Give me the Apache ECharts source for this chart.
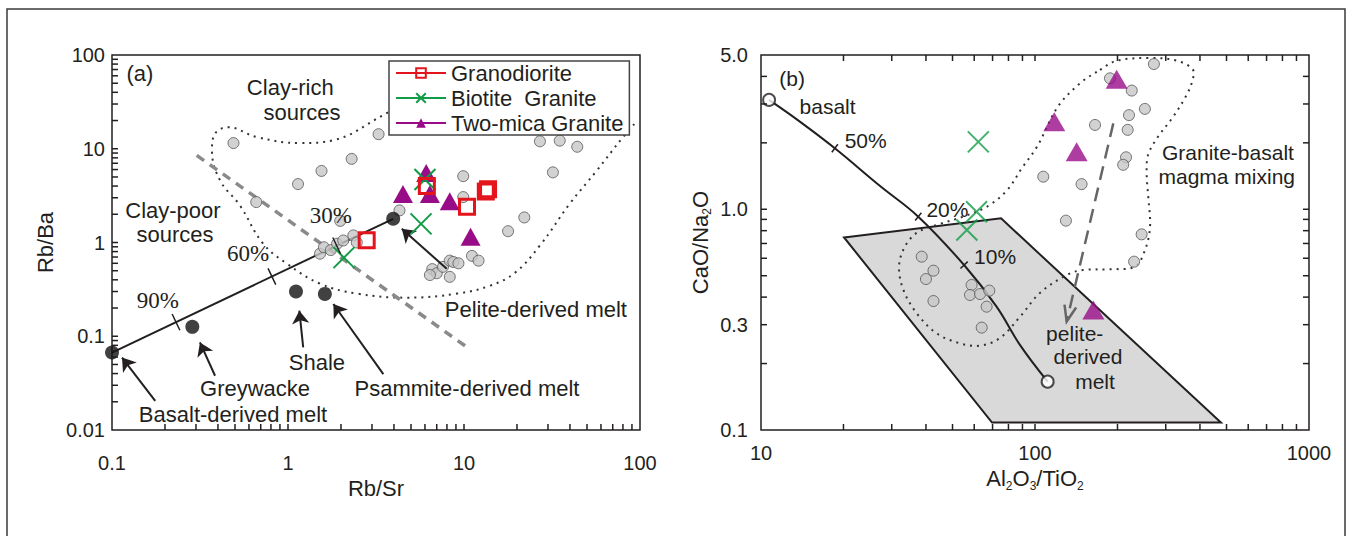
<!DOCTYPE html>
<html>
<head>
<meta charset="utf-8">
<title>Rb/Sr – Rb/Ba and Al2O3/TiO2 – CaO/Na2O source diagrams</title>
<script src="https://cdn.jsdelivr.net/npm/echarts@6/dist/echarts.min.js"></script>
<style>
  html, body { margin: 0; padding: 0; background: #fff; }
  #chart { width: 1351px; height: 536px; }
</style>
</head>
<body>
<div id="chart"></div>
<script>
// ---------- Panel (a): Rb/Sr vs Rb/Ba ----------
const samplesA = [
  [0.49, 11.5], [0.66, 2.7], [1.14, 4.2], [1.55, 5.8], [2.3, 7.8], [3.27, 14.3],
  [1.98, 1.7], [4.3, 2.2], [1.52, 0.76], [1.6, 0.89], [1.75, 0.83], [1.9, 0.97],
  [2.06, 1.05], [2.35, 1.19], [2.46, 1.0], [9.9, 5.1], [9.9, 3.05], [27, 12],
  [35, 12.2], [44, 10.5], [32, 5.6], [22, 1.85], [17.8, 1.32], [11.1, 0.72],
  [12.1, 0.64], [6.6, 0.52], [7.0, 0.47], [7.6, 0.55], [8.3, 0.64], [8.7, 0.62],
  [9.3, 0.60], [8.3, 0.43], [6.4, 0.45]
];
const granodioriteA = [[2.8, 1.06], [6.15, 4.0], [10.4, 2.4], [13.3, 3.5], [13.7, 3.7]];
const biotiteA = [[2.08, 0.69], [5.7, 1.58], [6.0, 4.7]];
const twoMicaA = [[4.5, 3.3], [6.1, 5.5], [6.4, 3.3], [8.3, 2.75], [10.9, 1.15]];

// end members: basalt-derived melt, greywacke, shale, psammite-derived melt, pelite-derived melt
const endMembersA = [[0.1, 0.067], [0.286, 0.126], [1.11, 0.30], [1.62, 0.283], [3.96, 1.79]];
const mixTicksA = [[0.231, 0.1416], [0.81, 0.434], [1.89, 0.925]];
const mixLabelsA = ['90%', '60%', '30%'];
const mixLabelAnchorsA = [[0.182, 0.24], [0.593, 0.762], [1.75, 1.95]];

const clayDividerA = [[0.303, 8.5], [10.5, 0.0755]];
const clayFieldA = [
  [4.33, 29.2], [3.47, 22.8], [1.80, 12.3], [1.17, 11.5], [0.667, 13.3], [0.456, 17.0],
  [0.380, 13.9], [0.370, 9.6], [0.411, 4.6], [0.533, 2.49], [0.721, 0.975], [0.986, 0.595],
  [1.52, 0.364], [2.47, 0.285], [4.74, 0.258], [9.12, 0.285], [14.1, 0.347], [19.5, 0.477],
  [27.0, 0.929], [40.0, 2.61], [57.0, 5.89], [79.0, 12.9], [94.9, 19.2]
];
const arrowsA = [
  [[0.176, 0.0204], [0.114, 0.0593]],
  [[0.385, 0.0379], [0.316, 0.0859]],
  [[1.22, 0.0759], [1.16, 0.1875]],
  [[3.48, 0.0394], [1.81, 0.221]],
  [[7.98, 0.524], [4.43, 1.40]]
];
const notesA = [
  ['(a)', 0.144, 64],
  ['Clay-rich', 1.03, 45.5],
  ['sources', 1.20, 24.5],
  ['Clay-poor', 0.222, 2.2],
  ['sources', 0.228, 1.22],
  ['Pelite-derived melt', 25.6, 0.192],
  ['Shale', 1.46, 0.0521],
  ['Greywacke', 0.65, 0.0274],
  ['Psammite-derived melt', 10.4, 0.0274],
  ['Basalt-derived melt', 0.487, 0.0148]
];
const xTicksA = [0.2, 0.3, 0.4, 0.5, 0.6, 0.7, 0.8, 0.9, 1, 2, 3, 4, 5, 6, 7, 8, 9, 10,
  20, 30, 40, 50, 60, 70, 80, 90];
const yTicksA = [0.02, 0.03, 0.04, 0.05, 0.06, 0.07, 0.08, 0.09, 0.1, 0.2, 0.3, 0.4, 0.5, 0.6,
  0.7, 0.8, 0.9, 1, 2, 3, 4, 5, 6, 7, 8, 9, 10, 20, 30, 40, 50, 60, 70, 80, 90];

// ---------- Panel (b): Al2O3/TiO2 vs CaO/Na2O ----------
const samplesB = [
  [38.6, 0.61], [42.6, 0.527], [40.0, 0.483], [42.6, 0.384],
  [58.7, 0.454], [57.9, 0.409], [63.0, 0.413], [68.1, 0.428], [66.6, 0.362], [63.9, 0.291],
  [271.6, 4.55], [187.8, 3.92], [225.5, 3.45], [251.8, 2.85], [220.3, 2.67], [165.6, 2.41],
  [217.9, 2.29], [214.9, 1.72], [209.8, 1.59], [107.2, 1.405], [147.9, 1.30], [129.7, 0.888],
  [245, 0.77], [230, 0.579]
];
const biotiteB = [[62.1, 2.02], [61.2, 0.975], [56.4, 0.806]];
const twoMicaB = [[198.6, 3.88], [117.6, 2.49], [141.9, 1.82], [163.3, 0.35]];
const endMembersB = [[10.7, 3.13], [111.2, 0.1656]];   // basalt, pelite-derived melt
const mixCurveB = [
  [10.7, 3.13], [13.9, 2.49], [18.6, 1.89], [27.2, 1.275], [37.5, 0.926],
  [55.1, 0.559], [72.4, 0.362], [88.1, 0.243], [111.2, 0.1656]
];
const mixTicksB = [[18.6, 1.89], [37.5, 0.926], [55.1, 0.559]];
const peliteFieldB = [[20.1, 0.745], [75.2, 0.91], [477, 0.108], [69.7, 0.108]];
const mixingFieldB = [
  [172.7, 4.28], [198.7, 4.71], [262.9, 4.85], [329.8, 4.71], [377.3, 4.28], [374.1, 3.78],
  [357.8, 3.30], [318.9, 2.62], [281.1, 2.13], [258.5, 1.76], [255.7, 1.43], [259.1, 1.137],
  [262.9, 0.832], [252.1, 0.654], [231.7, 0.55], [187.8, 0.535], [149.7, 0.531], [130.5, 0.504],
  [104.3, 0.418], [88.2, 0.326], [74.5, 0.261], [63.0, 0.241], [53.2, 0.247], [43.8, 0.274],
  [37.0, 0.338], [33.1, 0.431], [31.9, 0.55], [33.5, 0.677], [37.4, 0.789], [45.0, 0.858],
  [55.5, 0.932], [67.4, 1.035], [79.1, 1.22], [89.7, 1.54], [101.7, 1.92], [121.3, 2.92],
  [145.9, 3.72]
];
const trendArrowB = [[193.1, 2.45], [130.5, 0.31]];
const notesB = [
  ['(b)', 12.98, 3.92],
  ['basalt', 17.5, 2.91],
  ['50%', 24.1, 2.06],
  ['20%', 47.9, 0.993],
  ['10%', 71.5, 0.61],
  ['Granite-basalt', 506, 1.805],
  ['magma mixing', 500.9, 1.405],
  ['pelite-', 139.6, 0.274],
  ['derived', 156.1, 0.215],
  ['melt', 165.6, 0.1655]
];
const xTicksB = [20, 30, 40, 50, 60, 70, 80, 90, 100, 200, 300, 400, 500, 600, 700, 800, 900];
const yTicksB = [0.2, 0.3, 0.4, 0.5, 0.6, 0.7, 0.8, 0.9, 1, 2, 3, 4];
const yLabelValuesB = [0.1, 0.3, 1.0, 5.0];
const yLabelsB = ['0.1', '0.3', '1.0', '5.0'];

// ---------- styling ----------
const INK = '#231f20';
const SANS = '"Liberation Sans", Arial, Helvetica, sans-serif';
const SERIF = '"Liberation Serif", "Times New Roman", serif';
const RED = '#e3141c';
const GREEN = '#129c47';
const PURPLE = '#990c88';
const GREY_FILL = '#c7c7c7';
const GREY_EDGE = '#555';
const TICK = 6;
const CROSS = 'path://M0,0L20,20M20,0L0,20';
const plainNumber = v => String(v);

function tickSeries(values, dim, xi, yi, anchor, sides) {
  return {
    type: 'custom', xAxisIndex: xi, yAxisIndex: yi, silent: true, z: 8, clip: false,
    data: values.map(v => dim === 'x' ? [v, anchor] : [anchor, v]),
    renderItem: (params, api) => {
      const cs = params.coordSys;
      const p = api.coord([api.value(0), api.value(1)]);
      const kids = sides.map(side => {
        let s;
        if (side === 'bottom') s = { x1: p[0], y1: cs.y + cs.height, x2: p[0], y2: cs.y + cs.height - TICK };
        else if (side === 'top') s = { x1: p[0], y1: cs.y, x2: p[0], y2: cs.y + TICK };
        else if (side === 'left') s = { x1: cs.x, y1: p[1], x2: cs.x + TICK, y2: p[1] };
        else s = { x1: cs.x + cs.width, y1: p[1], x2: cs.x + cs.width - TICK, y2: p[1] };
        return { type: 'line', shape: s, style: { stroke: INK, lineWidth: 1.5 } };
      });
      return { type: 'group', children: kids };
    }
  };
}

function noteSeries(items, xi, yi, font, z) {
  return {
    type: 'custom', xAxisIndex: xi, yAxisIndex: yi, silent: true, z: z || 30, clip: false,
    data: items.map(t => [t[1], t[2]]),
    renderItem: (params, api) => {
      const p = api.coord([api.value(0), api.value(1)]);
      return {
        type: 'text', x: p[0], y: p[1],
        style: { text: items[params.dataIndex][0], font: font, fill: INK, align: 'center', verticalAlign: 'middle' }
      };
    }
  };
}

// short strokes across a mixing line, perpendicular to the local direction of the line
function mixTickSeries(points, line, xi, yi, len) {
  return {
    type: 'custom', xAxisIndex: xi, yAxisIndex: yi, silent: true, z: 12, clip: false,
    data: points,
    renderItem: (params, api) => {
      const x = api.value(0);
      const p = api.coord([x, api.value(1)]);
      let i = 0;
      while (i < line.length - 2 && line[i + 1][0] < x) i++;
      const a = api.coord(line[i]);
      const b = api.coord(line[i + 1]);
      const dx = b[0] - a[0], dy = b[1] - a[1];
      const L = Math.hypot(dx, dy) || 1;
      const nx = -dy / L, ny = dx / L;
      return {
        type: 'line',
        shape: { x1: p[0] - nx * len / 2, y1: p[1] - ny * len / 2, x2: p[0] + nx * len / 2, y2: p[1] + ny * len / 2 },
        style: { stroke: INK, lineWidth: 1.5 }
      };
    }
  };
}

const greyDot = { color: GREY_FILL, borderColor: GREY_EDGE, borderWidth: 1 };
const noLine = (c) => ({ color: c, width: 0 });
const subRich = {
  n: { fontSize: 22, fontFamily: SANS, color: INK, lineHeight: 26, verticalAlign: 'middle' },
  s: { fontSize: 12, fontFamily: SANS, color: INK, lineHeight: 13, verticalAlign: 'bottom' }
};

const option = {
  animation: false,
  backgroundColor: '#fff',
  graphic: [{
    type: 'rect', silent: true, z: 100,
    shape: { x: 7, y: 9, width: 1338, height: 540 },
    style: { fill: 'none', stroke: '#3a3a3a', lineWidth: 1.5 }
  }],
  legend: {
    data: ['Granodiorite', 'Biotite  Granite', 'Two-mica Granite'],
    orient: 'vertical', left: 389, top: 61,
    padding: [1, 6, 1, 6], itemGap: 3, itemWidth: 50, itemHeight: 12,
    backgroundColor: '#fff', borderColor: '#444', borderWidth: 1.5,
    selectedMode: false, z: 50,
    lineStyle: { width: 2 },
    textStyle: { fontSize: 22, fontFamily: SANS, color: INK, lineHeight: 22 }
  },
  grid: [
    { left: 112, top: 55, width: 528, height: 375, show: true, borderColor: INK, borderWidth: 1.5, backgroundColor: 'transparent' },
    { left: 761, top: 55, width: 548, height: 375, show: true, borderColor: INK, borderWidth: 1.5, backgroundColor: 'transparent' }
  ],
  xAxis: [
    {
      type: 'log', logBase: 10, min: 0.1, max: 100, gridIndex: 0,
      axisLine: { show: false }, axisTick: { show: false }, splitLine: { show: false },
      axisLabel: { fontSize: 20, fontFamily: SANS, color: INK, margin: 23, formatter: plainNumber },
      name: 'Rb/Sr', nameLocation: 'middle', nameGap: 44,
      nameTextStyle: { fontSize: 22, fontFamily: SANS, color: INK }
    },
    {
      type: 'log', logBase: 10, min: 10, max: 1000, gridIndex: 1,
      axisLine: { show: false }, axisTick: { show: false }, splitLine: { show: false },
      axisLabel: { fontSize: 20, fontFamily: SANS, color: INK, margin: 13, formatter: plainNumber },
      name: '{n|Al}{s|2}{n|O}{s|3}{n|/TiO}{s|2}', nameLocation: 'middle', nameGap: 35,
      nameTextStyle: { rich: subRich }
    }
  ],
  yAxis: [
    {
      type: 'log', logBase: 10, min: 0.01, max: 100, gridIndex: 0,
      axisLine: { show: false }, axisTick: { show: false }, splitLine: { show: false },
      axisLabel: { fontSize: 20, fontFamily: SANS, color: INK, margin: 7, formatter: plainNumber },
      name: 'Rb/Ba', nameLocation: 'middle', nameGap: 56, nameRotate: 90,
      nameTextStyle: { fontSize: 22, fontFamily: SANS, color: INK }
    },
    {
      type: 'log', logBase: 10, min: 0.1, max: 5, gridIndex: 1,
      axisLine: { show: false }, axisTick: { show: false }, splitLine: { show: false },
      axisLabel: { show: false },
      name: '{n|CaO/Na}{s|2}{n|O}', nameLocation: 'middle', nameGap: 48, nameRotate: 90,
      nameTextStyle: { rich: subRich }
    }
  ],
  series: [
    // ----- panel (a) -----
    tickSeries(xTicksA, 'x', 0, 0, 1, ['bottom']),
    tickSeries(yTicksA, 'y', 0, 0, 1, ['left']),
    {
      type: 'line', xAxisIndex: 0, yAxisIndex: 0, data: clayFieldA, smooth: 0.4,
      symbol: 'none', silent: true, z: 2,
      lineStyle: { color: '#333', width: 2, type: [2, 5] }
    },
    {
      type: 'line', xAxisIndex: 0, yAxisIndex: 0, data: clayDividerA,
      symbol: 'none', silent: true, z: 2,
      lineStyle: { color: '#8a8a8a', width: 3.5, type: [9, 7] }
    },
    {
      type: 'line', xAxisIndex: 0, yAxisIndex: 0, data: [endMembersA[0], endMembersA[4]],
      symbol: 'none', silent: true, z: 3,
      lineStyle: { color: INK, width: 2 }
    },
    mixTickSeries(mixTicksA, [endMembersA[0], endMembersA[4]], 0, 0, 18),
    {
      type: 'scatter', xAxisIndex: 0, yAxisIndex: 0, data: samplesA, silent: true, z: 4,
      symbol: 'circle', symbolSize: 11, itemStyle: greyDot
    },
    {
      type: 'lines', coordinateSystem: 'cartesian2d', xAxisIndex: 0, yAxisIndex: 0, silent: true, z: 6,
      symbol: ['none', 'arrow'], symbolSize: [0, 13],
      lineStyle: { color: INK, width: 2, opacity: 1 },
      data: arrowsA.map(a => ({ coords: a }))
    },
    {
      type: 'scatter', xAxisIndex: 0, yAxisIndex: 0, data: endMembersA, silent: true, z: 7,
      symbol: 'circle', symbolSize: 14, itemStyle: { color: '#111' }
    },
    {
      name: 'Two-mica Granite', type: 'line', xAxisIndex: 0, yAxisIndex: 0, data: twoMicaA,
      symbol: 'triangle', symbolSize: [20, 18], silent: true, z: 9,
      itemStyle: { color: PURPLE }, lineStyle: noLine(PURPLE)
    },
    {
      name: 'Biotite  Granite', type: 'line', xAxisIndex: 0, yAxisIndex: 0, data: biotiteA,
      symbol: CROSS, symbolSize: 21, silent: true, z: 10,
      itemStyle: { color: GREEN, borderColor: GREEN, borderWidth: 2 }, lineStyle: noLine(GREEN)
    },
    {
      name: 'Granodiorite', type: 'line', xAxisIndex: 0, yAxisIndex: 0, data: granodioriteA,
      symbol: 'rect', symbolSize: 15, silent: true, z: 11,
      itemStyle: { color: 'rgba(255,255,255,0)', borderColor: RED, borderWidth: 3 }, lineStyle: noLine(RED)
    },
    noteSeries(notesA, 0, 0, '22px ' + SANS),
    noteSeries(mixLabelsA.map((t, i) => [t, mixLabelAnchorsA[i][0], mixLabelAnchorsA[i][1]]), 0, 0, '23px ' + SERIF),

    // ----- panel (b) -----
    {
      type: 'custom', xAxisIndex: 1, yAxisIndex: 1, silent: true, z: 1, clip: false,
      data: [peliteFieldB[0]],
      renderItem: (params, api) => ({
        type: 'polygon',
        shape: { points: peliteFieldB.map(p => api.coord(p)) },
        style: { fill: '#d9d9d9', stroke: INK, lineWidth: 2 }
      })
    },
    tickSeries(xTicksB, 'x', 1, 1, 1, ['bottom', 'top']),
    tickSeries(yTicksB, 'y', 1, 1, 100, ['left', 'right']),
    {
      type: 'custom', xAxisIndex: 1, yAxisIndex: 1, silent: true, z: 8, clip: false,
      data: yLabelValuesB.map(v => [10, v]),
      renderItem: (params, api) => {
        const p = api.coord([api.value(0), api.value(1)]);
        return {
          type: 'text', x: params.coordSys.x - 13, y: p[1],
          style: { text: yLabelsB[params.dataIndex], font: '20px ' + SANS, fill: INK, align: 'right', verticalAlign: 'middle' }
        };
      }
    },
    {
      type: 'custom', xAxisIndex: 1, yAxisIndex: 1, silent: true, z: 2, clip: false,
      data: [mixingFieldB[0]],
      renderItem: (params, api) => ({
        type: 'polygon',
        shape: { points: mixingFieldB.map(p => api.coord(p)), smooth: 0.35 },
        style: { fill: 'none', stroke: '#333', lineWidth: 2, lineDash: [2, 5] }
      })
    },
    {
      type: 'line', xAxisIndex: 1, yAxisIndex: 1, data: mixCurveB, smooth: 0.4,
      symbol: 'none', silent: true, z: 3,
      lineStyle: { color: INK, width: 2 }
    },
    mixTickSeries(mixTicksB, mixCurveB, 1, 1, 10),
    {
      type: 'custom', xAxisIndex: 1, yAxisIndex: 1, silent: true, z: 5, clip: false,
      data: [[trendArrowB[0][0], trendArrowB[0][1], trendArrowB[1][0], trendArrowB[1][1]]],
      renderItem: (params, api) => {
        const a = api.coord([api.value(0), api.value(1)]);
        const b = api.coord([api.value(2), api.value(3)]);
        const ang = Math.atan2(b[1] - a[1], b[0] - a[0]);
        const head = 17, spread = 0.36;
        const arm = s => [b[0] - head * Math.cos(ang + s), b[1] - head * Math.sin(ang + s)];
        const l = arm(spread), r = arm(-spread);
        const st = { stroke: '#666', lineWidth: 2.5, fill: 'none' };
        return {
          type: 'group', children: [
            { type: 'line', shape: { x1: a[0], y1: a[1], x2: b[0], y2: b[1] }, style: Object.assign({ lineDash: [14, 8] }, st) },
            { type: 'polyline', shape: { points: [l, b, r] }, style: st }
          ]
        };
      }
    },
    {
      type: 'scatter', xAxisIndex: 1, yAxisIndex: 1, data: samplesB, silent: true, z: 4,
      symbol: 'circle', symbolSize: 11, itemStyle: greyDot
    },
    {
      type: 'scatter', xAxisIndex: 1, yAxisIndex: 1, data: endMembersB, silent: true, z: 7,
      symbol: 'circle', symbolSize: 12, itemStyle: { color: '#fff', borderColor: INK, borderWidth: 2 }
    },
    {
      name: 'Two-mica Granite (b)', type: 'scatter', xAxisIndex: 1, yAxisIndex: 1, data: twoMicaB,
      symbol: 'triangle', symbolSize: [22, 19], silent: true, z: 9,
      itemStyle: { color: PURPLE }
    },
    {
      name: 'Biotite Granite (b)', type: 'scatter', xAxisIndex: 1, yAxisIndex: 1, data: biotiteB,
      symbol: CROSS, symbolSize: 21, silent: true, z: 10,
      itemStyle: { color: GREEN, borderColor: GREEN, borderWidth: 2 }
    },
    noteSeries(notesB, 1, 1, '21px ' + SANS)
  ]
};

const chart = echarts.init(document.getElementById('chart'), null, { renderer: 'svg' });
chart.setOption(option);
</script>
</body>
</html>
